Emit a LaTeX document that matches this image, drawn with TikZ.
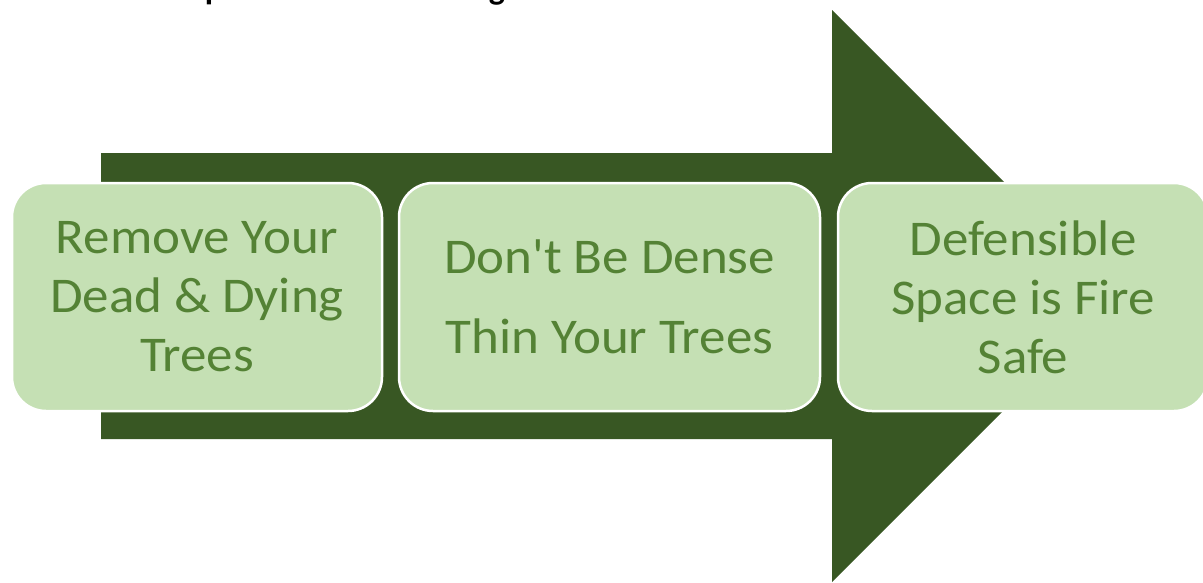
\documentclass[tikz,border=0pt]{standalone}
\usepackage{fontspec}
\setmainfont{Carlito}
\newfontfamily\stepfont{Carlito}[FakeStretch=1.06]
\definecolor{arrowgreen}{HTML}{385723}
\definecolor{boxfill}{HTML}{C5E0B4}
\definecolor{boxtext}{HTML}{548235}
\begin{document}
\begin{tikzpicture}[x=1pt,y=-1pt,
  stepbox/.style={draw=white, line width=2.5pt, fill=boxfill,
    rounded corners=34pt, minimum height=228pt, inner sep=0pt,
    align=center, text=boxtext,
    font=\stepfont\fontsize{50}{59}\selectfont},
  titletext/.style={anchor=base west, inner sep=0pt,
    font=\bfseries\fontsize{34}{40}\selectfont}]
\useasboundingbox (0,0) rectangle (1203,582);
\clip (0,0) rectangle (1203,582);
% heading line, mostly above the visible area
\node[titletext] (title) at (80,-1) {Three important actions and guidance};
% the big block arrow behind the steps
\fill[arrowgreen] (101,153) -- (832,153) -- (832,10) -- (1118,296)
  -- (832,582) -- (832,439) -- (101,439) -- cycle;
% the three steps
\node[stepbox, minimum width=370pt] (s1) at (197,297)
  {Remove Your\\Dead \& Dying\\Trees};
\node[stepbox, minimum width=421pt] (s2) at (609.5,297)
  {Don't Be Dense\\[21pt]Thin Your Trees};
\node[stepbox, minimum width=370pt] (s3) at (1023,297)
  {Defensible\\Space is Fire\\Safe};
\end{tikzpicture}
\end{document}
